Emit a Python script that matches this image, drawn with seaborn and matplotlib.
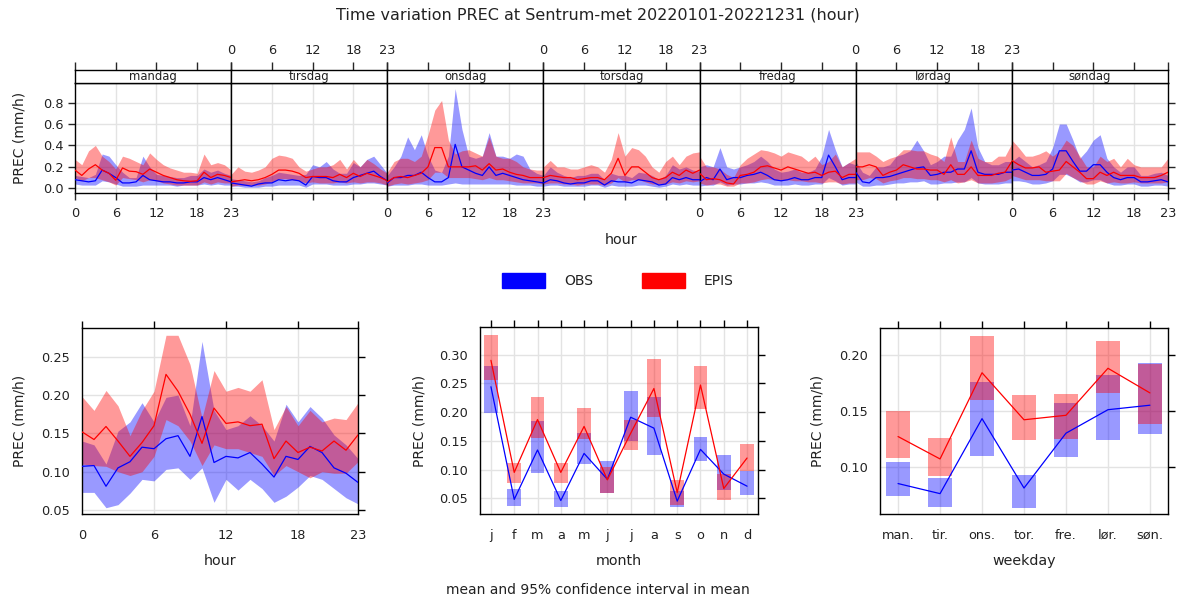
import numpy as np
import pandas as pd
import matplotlib
matplotlib.use("Agg")
import matplotlib.pyplot as plt
from matplotlib.patches import Rectangle
import seaborn as sns

# ---------------- data ----------------
days = ["mandag", "tirsdag", "onsdag", "torsdag", "fredag", "lørdag", "søndag"]
hours = list(range(24))

obs_mean = [
    0.08,0.07,0.06,0.07,0.17,0.14,0.10,0.05,0.05,0.06,0.12,0.08,0.07,0.06,0.06,0.05,0.05,0.06,0.06,0.10,0.08,0.10,0.08,0.06,
    0.05,0.04,0.03,0.02,0.04,0.05,0.05,0.08,0.07,0.08,0.07,0.03,0.11,0.10,0.10,0.07,0.06,0.06,0.10,0.12,0.14,0.16,0.11,0.07,
    0.05,0.10,0.10,0.12,0.12,0.15,0.10,0.06,0.06,0.10,0.41,0.20,0.17,0.14,0.12,0.20,0.12,0.14,0.12,0.10,0.08,0.07,0.06,0.05,
    0.05,0.08,0.07,0.05,0.04,0.05,0.05,0.07,0.07,0.03,0.07,0.06,0.06,0.05,0.08,0.07,0.06,0.03,0.04,0.10,0.08,0.10,0.08,0.08,
    0.06,0.10,0.08,0.18,0.08,0.10,0.10,0.12,0.13,0.15,0.12,0.08,0.07,0.08,0.10,0.08,0.08,0.10,0.10,0.31,0.20,0.08,0.10,0.10,
    0.15,0.06,0.05,0.10,0.10,0.11,0.13,0.15,0.17,0.19,0.20,0.12,0.13,0.15,0.15,0.18,0.18,0.35,0.15,0.13,0.13,0.13,0.15,0.15,
    0.17,0.18,0.15,0.12,0.12,0.13,0.18,0.35,0.35,0.25,0.16,0.16,0.22,0.22,0.15,0.10,0.08,0.10,0.10,0.06,0.06,0.07,0.08,0.06,
]
obs_hi = [
    0.12,0.11,0.10,0.13,0.32,0.30,0.22,0.15,0.10,0.10,0.30,0.20,0.13,0.12,0.11,0.10,0.10,0.12,0.12,0.18,0.15,0.17,0.14,0.12,
    0.09,0.08,0.07,0.06,0.07,0.10,0.12,0.15,0.14,0.13,0.12,0.13,0.22,0.20,0.25,0.18,0.14,0.14,0.24,0.20,0.27,0.30,0.22,0.14,
    0.12,0.20,0.30,0.48,0.36,0.50,0.30,0.17,0.15,0.30,0.93,0.55,0.30,0.28,0.30,0.52,0.30,0.30,0.28,0.32,0.30,0.18,0.14,0.12,
    0.12,0.20,0.15,0.12,0.10,0.12,0.12,0.14,0.14,0.08,0.14,0.12,0.12,0.10,0.15,0.14,0.12,0.08,0.12,0.22,0.18,0.20,0.17,0.16,
    0.20,0.22,0.20,0.38,0.20,0.18,0.20,0.22,0.25,0.30,0.25,0.18,0.15,0.16,0.18,0.15,0.15,0.18,0.30,0.55,0.36,0.20,0.24,0.22,
    0.25,0.15,0.12,0.20,0.20,0.22,0.30,0.32,0.35,0.45,0.35,0.22,0.25,0.30,0.30,0.45,0.55,0.75,0.38,0.25,0.22,0.22,0.25,0.25,
    0.25,0.30,0.25,0.20,0.22,0.25,0.38,0.60,0.60,0.45,0.28,0.35,0.45,0.50,0.28,0.20,0.15,0.20,0.20,0.12,0.12,0.14,0.15,0.12,
]
obs_lo = [
    0.04,0.03,0.03,0.03,0.07,0.06,0.04,0.02,0.02,0.02,0.03,0.03,0.03,0.03,0.03,0.02,0.03,0.03,0.03,0.04,0.03,0.04,0.03,0.03,
    0.02,0.02,0.01,0.01,0.01,0.02,0.02,0.03,0.03,0.03,0.03,0.01,0.04,0.04,0.04,0.03,0.03,0.03,0.04,0.04,0.05,0.05,0.04,0.03,
    0.02,0.03,0.03,0.03,0.04,0.04,0.03,0.03,0.03,0.04,0.05,0.04,0.04,0.04,0.04,0.04,0.04,0.04,0.04,0.03,0.03,0.03,0.02,0.02,
    0.02,0.03,0.03,0.02,0.02,0.02,0.02,0.03,0.03,0.01,0.03,0.02,0.02,0.02,0.03,0.03,0.02,0.01,0.02,0.04,0.03,0.04,0.03,0.03,
    0.02,0.03,0.03,0.06,0.03,0.04,0.04,0.05,0.05,0.06,0.05,0.03,0.03,0.03,0.04,0.03,0.03,0.04,0.04,0.10,0.07,0.03,0.04,0.04,
    0.06,0.02,0.02,0.03,0.03,0.04,0.05,0.05,0.06,0.06,0.07,0.04,0.04,0.05,0.05,0.06,0.06,0.10,0.05,0.04,0.04,0.04,0.05,0.05,
    0.07,0.07,0.06,0.04,0.04,0.05,0.07,0.13,0.13,0.10,0.06,0.06,0.08,0.08,0.05,0.03,0.03,0.04,0.04,0.02,0.02,0.03,0.03,0.02,
]
epis_mean = [
    0.17,0.12,0.18,0.22,0.17,0.14,0.075,0.19,0.16,0.155,0.13,0.18,0.15,0.12,0.10,0.08,0.07,0.065,0.07,0.15,0.10,0.13,0.12,0.10,
    0.06,0.07,0.08,0.07,0.08,0.10,0.13,0.17,0.17,0.16,0.14,0.10,0.11,0.11,0.11,0.10,0.13,0.10,0.14,0.11,0.14,0.12,0.10,0.07,
    0.06,0.10,0.11,0.10,0.12,0.14,0.20,0.38,0.38,0.20,0.20,0.20,0.20,0.21,0.17,0.23,0.17,0.18,0.15,0.13,0.12,0.10,0.10,0.10,
    0.10,0.12,0.11,0.10,0.10,0.08,0.09,0.10,0.10,0.08,0.14,0.28,0.12,0.20,0.20,0.15,0.10,0.08,0.10,0.15,0.12,0.17,0.14,0.17,
    0.14,0.08,0.09,0.08,0.05,0.04,0.12,0.13,0.15,0.20,0.21,0.19,0.17,0.20,0.18,0.16,0.14,0.15,0.12,0.15,0.16,0.10,0.13,0.13,
    0.20,0.20,0.22,0.20,0.12,0.15,0.17,0.22,0.20,0.18,0.18,0.17,0.17,0.13,0.22,0.13,0.13,0.20,0.12,0.12,0.12,0.14,0.15,0.25,
    0.26,0.22,0.19,0.19,0.20,0.15,0.16,0.17,0.25,0.20,0.15,0.09,0.09,0.15,0.12,0.15,0.12,0.12,0.12,0.10,0.10,0.10,0.12,0.15,
]
epis_hi = [
    0.27,0.22,0.35,0.40,0.30,0.25,0.18,0.30,0.28,0.25,0.22,0.33,0.27,0.22,0.19,0.17,0.15,0.15,0.14,0.32,0.22,0.24,0.22,0.17,
    0.13,0.20,0.16,0.15,0.17,0.20,0.28,0.31,0.30,0.28,0.20,0.16,0.18,0.20,0.20,0.22,0.27,0.18,0.27,0.20,0.27,0.23,0.18,0.14,
    0.15,0.25,0.28,0.28,0.25,0.30,0.50,0.73,0.82,0.45,0.32,0.35,0.36,0.33,0.30,0.48,0.30,0.28,0.28,0.25,0.20,0.18,0.17,0.17,
    0.20,0.26,0.20,0.20,0.18,0.18,0.20,0.22,0.20,0.15,0.27,0.52,0.30,0.38,0.36,0.30,0.20,0.15,0.25,0.30,0.22,0.30,0.33,0.34,
    0.30,0.20,0.20,0.18,0.13,0.10,0.22,0.28,0.32,0.36,0.35,0.33,0.30,0.34,0.32,0.30,0.25,0.30,0.22,0.25,0.32,0.20,0.24,0.28,
    0.34,0.34,0.34,0.30,0.25,0.28,0.30,0.36,0.36,0.35,0.35,0.32,0.30,0.25,0.48,0.25,0.25,0.45,0.28,0.25,0.25,0.30,0.30,0.42,
    0.45,0.38,0.30,0.30,0.32,0.35,0.30,0.35,0.45,0.40,0.30,0.20,0.20,0.30,0.25,0.28,0.20,0.28,0.22,0.20,0.20,0.20,0.20,0.28,
]
epis_lo = [
    0.10,0.07,0.10,0.10,0.08,0.06,0.03,0.10,0.09,0.08,0.06,0.08,0.07,0.05,0.04,0.03,0.03,0.03,0.03,0.06,0.04,0.06,0.05,0.05,
    0.02,0.03,0.03,0.03,0.03,0.04,0.06,0.09,0.09,0.08,0.07,0.05,0.06,0.05,0.05,0.05,0.06,0.05,0.06,0.05,0.06,0.06,0.05,0.03,
    0.02,0.04,0.05,0.04,0.05,0.06,0.08,0.15,0.15,0.10,0.10,0.10,0.10,0.09,0.08,0.10,0.08,0.08,0.07,0.06,0.05,0.05,0.05,0.04,
    0.04,0.05,0.05,0.04,0.04,0.03,0.04,0.04,0.04,0.03,0.05,0.10,0.06,0.08,0.08,0.06,0.04,0.04,0.04,0.06,0.05,0.07,0.06,0.07,
    0.05,0.03,0.04,0.04,0.02,0.02,0.05,0.05,0.06,0.08,0.09,0.08,0.07,0.08,0.07,0.07,0.06,0.06,0.05,0.06,0.06,0.04,0.05,0.05,
    0.08,0.08,0.10,0.09,0.05,0.07,0.08,0.10,0.10,0.09,0.09,0.08,0.08,0.06,0.08,0.05,0.06,0.08,0.05,0.05,0.05,0.06,0.07,0.10,
    0.12,0.10,0.08,0.08,0.08,0.07,0.07,0.07,0.14,0.10,0.07,0.04,0.04,0.07,0.05,0.06,0.05,0.05,0.06,0.05,0.05,0.05,0.05,0.06,
]

# hour panel (all days)
hr_obs_mean = [0.107,0.108,0.081,0.105,0.113,0.132,0.130,0.143,0.147,0.120,0.172,0.112,0.120,0.118,0.125,0.110,0.093,0.120,0.116,0.133,0.125,0.105,0.098,0.086]
hr_obs_hi   = [0.140,0.135,0.110,0.153,0.165,0.190,0.165,0.197,0.200,0.160,0.270,0.180,0.155,0.160,0.173,0.160,0.140,0.188,0.165,0.185,0.170,0.148,0.135,0.117]
hr_obs_lo   = [0.073,0.073,0.053,0.057,0.072,0.090,0.088,0.103,0.105,0.090,0.105,0.060,0.090,0.076,0.090,0.078,0.060,0.068,0.080,0.095,0.090,0.078,0.066,0.058]
hr_epis_mean = [0.152,0.142,0.159,0.140,0.120,0.138,0.160,0.227,0.205,0.175,0.137,0.183,0.163,0.165,0.160,0.162,0.117,0.140,0.125,0.132,0.127,0.140,0.128,0.148]
hr_epis_hi   = [0.198,0.180,0.206,0.186,0.147,0.180,0.205,0.278,0.278,0.240,0.170,0.232,0.205,0.210,0.205,0.220,0.155,0.185,0.160,0.180,0.165,0.170,0.168,0.190]
hr_epis_lo   = [0.110,0.108,0.107,0.100,0.095,0.100,0.120,0.168,0.160,0.140,0.108,0.135,0.130,0.130,0.125,0.120,0.095,0.108,0.100,0.092,0.100,0.098,0.098,0.113]

# month panel
months = ["j", "f", "m", "a", "m", "j", "j", "a", "s", "o", "n", "d"]
mo_obs_mean = [0.244,0.048,0.134,0.046,0.128,0.083,0.191,0.172,0.045,0.135,0.092,0.071]
mo_obs_hi   = [0.280,0.066,0.185,0.062,0.163,0.114,0.237,0.226,0.063,0.156,0.125,0.097]
mo_obs_lo   = [0.198,0.036,0.094,0.034,0.110,0.060,0.150,0.125,0.034,0.115,0.064,0.056]
mo_epis_mean = [0.290,0.095,0.187,0.095,0.175,0.082,0.163,0.241,0.060,0.247,0.067,0.120]
mo_epis_hi   = [0.334,0.112,0.226,0.112,0.207,0.104,0.186,0.292,0.082,0.281,0.092,0.145]
mo_epis_lo   = [0.255,0.077,0.154,0.076,0.153,0.060,0.134,0.192,0.038,0.205,0.047,0.097]

# weekday panel
wdays = ["man.", "tir.", "ons.", "tor.", "fre.", "lør.", "søn."]
wd_obs_mean = [0.085,0.076,0.143,0.081,0.130,0.151,0.155]
wd_obs_hi   = [0.104,0.090,0.176,0.093,0.157,0.182,0.193]
wd_obs_lo   = [0.074,0.064,0.110,0.063,0.109,0.124,0.129]
wd_epis_mean = [0.127,0.107,0.184,0.142,0.146,0.188,0.166]
wd_epis_hi   = [0.150,0.126,0.217,0.164,0.165,0.212,0.192]
wd_epis_lo   = [0.108,0.092,0.160,0.124,0.125,0.166,0.138]

series = ["OBS", "EPIS"]
colors = {"OBS": "#0000FF", "EPIS": "#FF0000"}

# ---------------- style ----------------
sns.set_theme(style="white")
plt.rcParams["font.family"] = ["DejaVu Sans"]
plt.rcParams["axes.linewidth"] = 1.0
plt.rcParams["axes.edgecolor"] = "black"
plt.rcParams["text.color"] = "#222222"

W, H = 1183, 603
fig = plt.figure(figsize=(W / 100, H / 100), dpi=100)
fig.patch.set_facecolor("white")

def rect(l, t, r, b):
    return [l / W, 1 - b / H, (r - l) / W, (b - t) / H]

GRID = "#e3e3e3"
TICK_FS = 9.3
LAB_FS = 10.3
YLAB_FS = 10.0
ALPHA = 0.4
TXT = "#222222"

def draw_series(ax, df, x):
    for s in series:
        d = df[df["series"] == s]
        ax.fill_between(d[x], d["lo"], d["hi"], color=colors[s], alpha=ALPHA, lw=0, zorder=2)
        sns.lineplot(data=d, x=x, y="mean", color=colors[s], lw=0.9, ax=ax,
                     estimator=None, sort=False, legend=False, zorder=3)

def style_box(ax):
    for sp in ax.spines.values():
        sp.set_visible(True)
        sp.set_color("black")
        sp.set_linewidth(1.0)
    ax.tick_params(axis="both", which="both", direction="out", length=5, width=1,
                   colors="black", labelcolor=TXT, labelsize=TICK_FS, top=True, right=True,
                   labeltop=False, labelright=False)
    ax.tick_params(axis="x", pad=5.5)
    ax.set_axisbelow(True)

# ---------------- top: hour x weekday ----------------
top_df = pd.DataFrame({
    "day": np.repeat(days, 24).tolist() * 2,
    "hour": hours * 7 * 2,
    "series": ["OBS"] * 168 + ["EPIS"] * 168,
    "mean": obs_mean + epis_mean,
    "lo": obs_lo + epis_lo,
    "hi": obs_hi + epis_hi,
})

L, R = 75, 1168
pw = (R - L) / 7
for i, day in enumerate(days):
    x0 = L + i * pw
    x1 = x0 + pw
    ax = fig.add_axes(rect(x0, 83.3, x1, 193))
    d = top_df[top_df["day"] == day]
    draw_series(ax, d, "hour")
    ax.set_xlim(0, 23)
    ax.set_ylim(-0.044, 0.98)
    ax.set_xticks([0, 6, 12, 18, 23])
    ax.set_yticks([0.0, 0.2, 0.4, 0.6, 0.8])
    ax.set_yticklabels(["0.0", "0.2", "0.4", "0.6", "0.8"])
    for g in [6, 12, 18]:
        ax.axvline(g, color=GRID, lw=1, zorder=1)
    for g in [0.0, 0.2, 0.4, 0.6, 0.8]:
        ax.axhline(g, color=GRID, lw=1, zorder=1)
    for sp in ax.spines.values():
        sp.set_color("black")
        sp.set_linewidth(1.0)
    ax.tick_params(axis="x", direction="out", length=5, width=1, labelsize=TICK_FS,
                   labelcolor=TXT, top=False, bottom=True, labelbottom=(i % 2 == 0), pad=5)
    ax.tick_params(axis="y", direction="out", length=5, width=1, labelsize=TICK_FS,
                   labelcolor=TXT, left=(i == 0), labelleft=(i == 0), right=(i == 6),
                   labelright=False, pad=3)
    ax.set_xlabel("")
    ax.set_ylabel("")
    if i == 0:
        ax.set_ylabel("PREC (mm/h)", fontsize=YLAB_FS, labelpad=12, color=TXT)

    # strip
    sx = fig.add_axes(rect(x0, 70, x1, 83.3))
    sx.set_xlim(0, 23)
    sx.set_ylim(0, 1)
    sx.set_facecolor("white")
    sx.text(11.5, 0.5, day, ha="center", va="center", fontsize=8.4, color=TXT)
    sx.set_xticks([0, 6, 12, 18, 23])
    sx.set_yticks([])
    for sp in sx.spines.values():
        sp.set_color("black")
        sp.set_linewidth(1.0)
    sx.tick_params(axis="x", direction="out", length=6, width=1, labelsize=TICK_FS,
                   labelcolor=TXT, top=True, bottom=False, labelbottom=False,
                   labeltop=(i % 2 == 1), pad=3)

fig.text((L + R) / 2 / W, 1 - 240 / H, "hour", ha="center", va="center", fontsize=LAB_FS)
fig.text(598 / W, 1 - 15 / H, "Time variation PREC at Sentrum-met 20220101-20221231 (hour)",
         ha="center", va="center", fontsize=11.5)

# legend
for lx, name, s in [(502, "OBS", "OBS"), (642, "EPIS", "EPIS")]:
    fig.patches.append(Rectangle((lx / W, 1 - 288 / H), 43 / W, 15 / H,
                                 transform=fig.transFigure, color=colors[s], figure=fig))
    fig.text((lx + 62) / W, 1 - 281 / H, name, ha="left", va="center", fontsize=10)

# ---------------- bottom-left: hour ----------------
hr_df = pd.DataFrame({
    "hour": hours * 2,
    "series": ["OBS"] * 24 + ["EPIS"] * 24,
    "mean": hr_obs_mean + hr_epis_mean,
    "lo": hr_obs_lo + hr_epis_lo,
    "hi": hr_obs_hi + hr_epis_hi,
})
ax1 = fig.add_axes(rect(82, 328, 358, 514))
style_box(ax1)
draw_series(ax1, hr_df, "hour")
ax1.set_xlim(0, 23)
ax1.set_ylim(0.0448, 0.2875)
ax1.set_xticks([0, 6, 12, 18, 23])
ax1.set_yticks([0.05, 0.10, 0.15, 0.20, 0.25])
ax1.set_yticklabels(["0.05", "0.10", "0.15", "0.20", "0.25"])
for g in [6, 12, 18]:
    ax1.axvline(g, color=GRID, lw=1, zorder=1)
for g in [0.05, 0.10, 0.15, 0.20, 0.25]:
    ax1.axhline(g, color=GRID, lw=1, zorder=1)
ax1.set_xlabel("hour", fontsize=LAB_FS, labelpad=9, color=TXT)
ax1.set_ylabel("PREC (mm/h)", fontsize=YLAB_FS, labelpad=11, color=TXT)

# ---------------- bottom-middle: month ----------------
mpos = list(range(1, 13))
ax2 = fig.add_axes(rect(480, 327, 758, 514))
style_box(ax2)
mo_df = pd.DataFrame({
    "month": mpos * 2,
    "series": ["OBS"] * 12 + ["EPIS"] * 12,
    "mean": mo_obs_mean + mo_epis_mean,
    "lo": mo_obs_lo + mo_epis_lo,
    "hi": mo_obs_hi + mo_epis_hi,
})
for s in series:
    d = mo_df[mo_df["series"] == s]
    ax2.bar(d["month"], d["hi"] - d["lo"], bottom=d["lo"], width=0.6,
            color=colors[s], alpha=ALPHA, lw=0, zorder=2)
    sns.lineplot(data=d, x="month", y="mean", color=colors[s], lw=0.9, ax=ax2,
                 estimator=None, sort=False, legend=False, zorder=3)
ax2.set_xlim(0.53, 12.47)
ax2.set_ylim(0.0226, 0.348)
ax2.set_xticks(mpos)
ax2.set_xticklabels(months)
ax2.set_yticks([0.05, 0.10, 0.15, 0.20, 0.25, 0.30])
ax2.set_yticklabels(["0.05", "0.10", "0.15", "0.20", "0.25", "0.30"])
for g in mpos:
    ax2.axvline(g, color=GRID, lw=1, zorder=1)
for g in [0.05, 0.10, 0.15, 0.20, 0.25, 0.30]:
    ax2.axhline(g, color=GRID, lw=1, zorder=1)
ax2.set_xlabel("month", fontsize=LAB_FS, labelpad=9, color=TXT)
ax2.set_ylabel("PREC (mm/h)", fontsize=YLAB_FS, labelpad=9, color=TXT)

# ---------------- bottom-right: weekday ----------------
wpos = list(range(1, 8))
ax3 = fig.add_axes(rect(880, 328, 1168, 514))
style_box(ax3)
wd_df = pd.DataFrame({
    "wd": wpos * 2,
    "series": ["OBS"] * 7 + ["EPIS"] * 7,
    "mean": wd_obs_mean + wd_epis_mean,
    "lo": wd_obs_lo + wd_epis_lo,
    "hi": wd_obs_hi + wd_epis_hi,
})
for s in series:
    d = wd_df[wd_df["series"] == s]
    ax3.bar(d["wd"], d["hi"] - d["lo"], bottom=d["lo"], width=0.58,
            color=colors[s], alpha=ALPHA, lw=0, zorder=2)
    sns.lineplot(data=d, x="wd", y="mean", color=colors[s], lw=0.9, ax=ax3,
                 estimator=None, sort=False, legend=False, zorder=3)
ax3.set_xlim(0.57, 7.43)
ax3.set_ylim(0.0578, 0.224)
ax3.set_xticks(wpos)
ax3.set_xticklabels(wdays)
ax3.set_yticks([0.10, 0.15, 0.20])
ax3.set_yticklabels(["0.10", "0.15", "0.20"])
for g in wpos:
    ax3.axvline(g, color=GRID, lw=1, zorder=1)
for g in [0.10, 0.15, 0.20]:
    ax3.axhline(g, color=GRID, lw=1, zorder=1)
ax3.set_xlabel("weekday", fontsize=LAB_FS, labelpad=9, color=TXT)
ax3.set_ylabel("PREC (mm/h)", fontsize=YLAB_FS, labelpad=11, color=TXT)

fig.text(598 / W, 1 - 590 / H, "mean and 95% confidence interval in mean",
         ha="center", va="center", fontsize=10)

fig.savefig("out.png", dpi=100, facecolor="white")
